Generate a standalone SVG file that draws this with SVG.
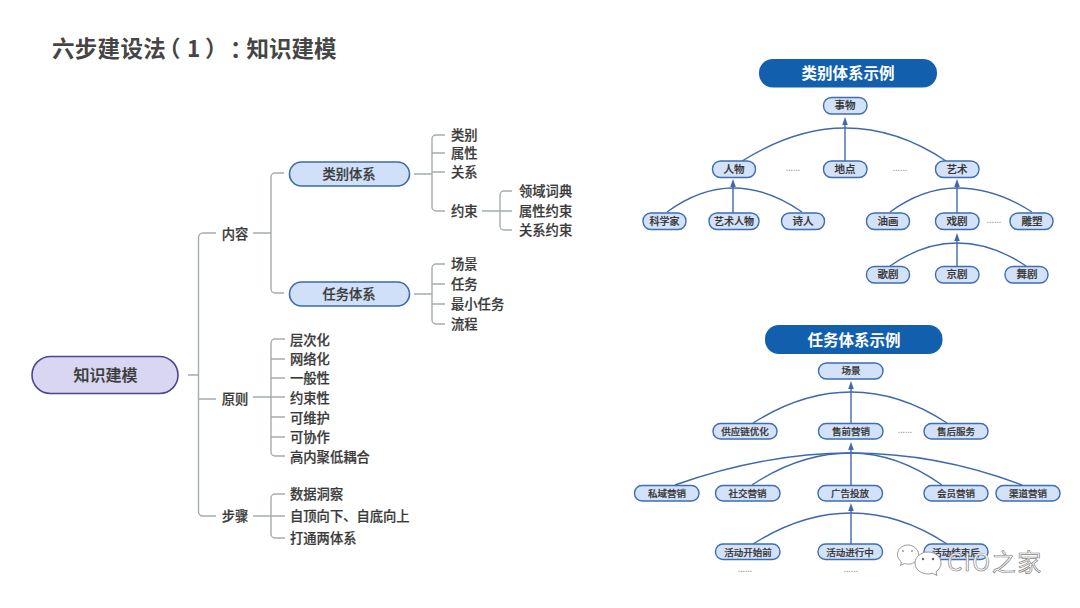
<svg xmlns="http://www.w3.org/2000/svg" width="1080" height="608" viewBox="0 0 1080 608">
<style>
text{font-family:"Noto Sans CJK SC","Liberation Sans",sans-serif;dominant-baseline:central;text-anchor:middle;fill:#3a3a3a;stroke:#3a3a3a;stroke-width:.22;font-weight:500;transform:translateY(-.05em)}
.title{font-size:22.500px;font-weight:700;text-anchor:start;fill:#454545;stroke:none;text-spacing-trim:space-all;transform:translateY(-.11em)}
.leaf{font-size:13.300px;text-anchor:start}
.mid{font-size:13.300px}
.rt{font-size:16px}
.pill{fill:#cfe0f8;stroke:#3a6ab0;stroke-width:1.6}
.root{fill:#d9d6f1;stroke:#4c4596;stroke-width:1.6}
.banner{fill:#1260ad}
.bt{font-size:15.500px;font-weight:700;fill:#fff;stroke:none}
.n{fill:#d3e2f8;stroke:#3d6db2;stroke-width:1.4}
.s{font-size:10px;fill:#333}
.s2{font-size:10.500px;fill:#333}
.t{font-size:9.500px;fill:#333}
.dot{font-size:8px;fill:#888;stroke:none}
.gl{fill:none;stroke:#a4adae;stroke-width:1.4}
.bl{fill:none;stroke:#3f69ad;stroke-width:1.4}
.ar{marker-end:url(#up)}
.wm{fill:#fff;stroke:#9a9a9a;stroke-width:1}
.wt{font-size:24px;font-weight:400;fill:#fff;stroke:#858585;stroke-width:.7;text-anchor:start;letter-spacing:1.500px}
</style>
<defs><marker id="up" markerUnits="userSpaceOnUse" markerWidth="8" markerHeight="8" refX="1" refY="4" orient="auto" viewBox="0 0 8 8"><path d="M8 4L0 1.200V6.800Z" fill="#3f69ad"/></marker></defs>
<rect width="1080" height="608" fill="#fff"/>
<text class="title" y="49" x="52 74.800 97.600 120.400 143.200 158 187 205 230 246.500 269 291.500 314">六步建设法（1）：知识建模</text>

<g id="connectors">
<g id="mindmap-lines" class="gl">
<path d="M188 375H198.500M216 233H203a4.500 4.500 0 0 0-4.500 4.500V511.500a4.500 4.500 0 0 0 4.500 4.500H216M198.500 399H216"/>
<path d="M253 233H271M284 173H275a4 4 0 0 0-4 4V289a4 4 0 0 0 4 4H284"/>
<path d="M414 174H432M445 135H436a4 4 0 0 0-4 4V207a4 4 0 0 0 4 4H445M432 153H445M432 172H445"/>
<path d="M482 211H512M512 191H504a4 4 0 0 0-4 4V226a4 4 0 0 0 4 4H512"/>
<path d="M414 294H432M445 264H436a4 4 0 0 0-4 4V320a4 4 0 0 0 4 4H445M432 284H445M432 304H445"/>
<path d="M253 397H285M285 339H275a4 4 0 0 0-4 4V452a4 4 0 0 0 4 4H285M271 359H285M271 378H285M271 417H285M271 437H285"/>
<path d="M253 516H285M285 494H275a4 4 0 0 0-4 4V534a4 4 0 0 0 4 4H285"/>
</g>
<g id="category-lines" class="bl">
<path class="ar" d="M845 161V124"/>
<path d="M742 161Q795 128 845 128Q897 128 946 161"/>
<path class="ar" d="M733 213V186"/>
<path d="M667 212Q700 188 733 188Q768 188 802 212"/>
<path class="ar" d="M957 213V186"/>
<path d="M890 212Q923 188 957 188Q995 188 1032 212"/>
<path class="ar" d="M957 266V240"/>
<path d="M890 266Q923 243 957 243Q992 243 1026 266"/>
</g>
<g id="task-lines" class="bl">
<path class="ar" d="M851 423V388"/>
<path d="M753 423Q802 392 851 392Q900 392 947 423"/>
<path class="ar" d="M851 485V449"/>
<path d="M675 485Q765 453 851 453Q938 453 1022 485"/>
<path d="M752 485Q800 453 851 453Q897 453 942 485"/>
<path class="ar" d="M851 544V510"/>
<path d="M753 544Q802 513 851 513Q900 513 947 544"/>
</g>
</g>

<g id="root"><rect class="root" x="32" y="356.500" width="146" height="37" rx="18.500"/><text class="rt" x="105.500" y="375">知识建模</text></g>
<g id="b-content"><text class="mid" x="235" y="234">内容</text></g>
<g id="b-principle"><text class="mid" x="235" y="399">原则</text></g>
<g id="b-steps"><text class="mid" x="235" y="516">步骤</text></g>
<g id="cat-system"><rect class="pill" x="289.500" y="162" width="120" height="24" rx="12"/><text class="mid" x="349" y="174">类别体系</text></g>
<g id="task-system"><rect class="pill" x="289.500" y="282" width="120" height="24" rx="12"/><text class="mid" x="349" y="294">任务体系</text></g>
<g id="l1"><text class="leaf" x="451" y="135">类别</text></g>
<g id="l2"><text class="leaf" x="451" y="153">属性</text></g>
<g id="l3"><text class="leaf" x="451" y="172">关系</text></g>
<g id="l4"><text class="leaf" x="451" y="211">约束</text></g>
<g id="l5"><text class="leaf" x="519" y="191">领域词典</text></g>
<g id="l6"><text class="leaf" x="519" y="211">属性约束</text></g>
<g id="l7"><text class="leaf" x="519" y="230">关系约束</text></g>
<g id="l8"><text class="leaf" x="451" y="264">场景</text></g>
<g id="l9"><text class="leaf" x="451" y="284">任务</text></g>
<g id="l10"><text class="leaf" x="451" y="304">最小任务</text></g>
<g id="l11"><text class="leaf" x="451" y="324">流程</text></g>
<g id="p1"><text class="leaf" x="290" y="340">层次化</text></g>
<g id="p2"><text class="leaf" x="290" y="359">网络化</text></g>
<g id="p3"><text class="leaf" x="290" y="378">一般性</text></g>
<g id="p4"><text class="leaf" x="290" y="398">约束性</text></g>
<g id="p5"><text class="leaf" x="290" y="418">可维护</text></g>
<g id="p6"><text class="leaf" x="290" y="437">可协作</text></g>
<g id="p7"><text class="leaf" x="290" y="457">高内聚低耦合</text></g>
<g id="s1"><text class="leaf" x="290" y="494">数据洞察</text></g>
<g id="s2"><text class="leaf" x="290" y="516">自顶向下、自底向上</text></g>
<g id="s3"><text class="leaf" x="290" y="538">打通两体系</text></g>

<g id="banner-cat"><rect class="banner" x="759" y="59" width="178" height="28.500" rx="14"/><text class="bt" x="848" y="73">类别体系示例</text></g>
<g id="c0"><rect class="n" x="823.500" y="97.500" width="43.500" height="16.500" rx="8"/><text class="s2" x="845" y="105.500">事物</text></g>
<g id="c1"><rect class="n" x="712.500" y="161" width="43" height="16.500" rx="8"/><text class="s2" x="734" y="169">人物</text></g>
<g id="c2"><rect class="n" x="823.500" y="161" width="43.500" height="16.500" rx="8"/><text class="s2" x="845" y="169">地点</text></g>
<g id="c3"><rect class="n" x="935.500" y="161" width="43.500" height="16.500" rx="8"/><text class="s2" x="957" y="169">艺术</text></g>
<g id="c4"><rect class="n" x="643" y="213" width="43" height="16.500" rx="8"/><text class="s" x="664.500" y="221">科学家</text></g>
<g id="c5"><rect class="n" x="709" y="213" width="50" height="16.500" rx="8"/><text class="s" x="734" y="221">艺术人物</text></g>
<g id="c6"><rect class="n" x="781.500" y="213" width="43" height="16.500" rx="8"/><text class="s2" x="803" y="221">诗人</text></g>
<g id="c7"><rect class="n" x="866.500" y="213" width="43" height="16.500" rx="8"/><text class="s2" x="888" y="221">油画</text></g>
<g id="c8"><rect class="n" x="935.500" y="213" width="43.500" height="16.500" rx="8"/><text class="s2" x="957" y="221">戏剧</text></g>
<g id="c9"><rect class="n" x="1010" y="213" width="43" height="16.500" rx="8"/><text class="s2" x="1032" y="221">雕塑</text></g>
<g id="c10"><rect class="n" x="866.500" y="266.500" width="43" height="16.500" rx="8"/><text class="s2" x="888" y="274.500">歌剧</text></g>
<g id="c11"><rect class="n" x="935.500" y="266.500" width="43.500" height="16.500" rx="8"/><text class="s2" x="957" y="274.500">京剧</text></g>
<g id="c12"><rect class="n" x="1005" y="266.500" width="43" height="16.500" rx="8"/><text class="s2" x="1027" y="274.500">舞剧</text></g>
<text class="dot" x="793" y="168">......</text>
<text class="dot" x="900" y="168">......</text>
<text class="dot" x="994" y="220">......</text>

<g id="banner-task"><rect class="banner" x="765" y="325" width="177.500" height="29" rx="14"/><text class="bt" x="854" y="339.500">任务体系示例</text></g>
<g id="t0"><rect class="n" x="818.500" y="363" width="64.500" height="16" rx="8"/><text class="t" x="851" y="370.500">场景</text></g>
<g id="t1"><rect class="n" x="713" y="423.500" width="64" height="15.500" rx="7.500"/><text class="t" x="745" y="431">供应链优化</text></g>
<g id="t2"><rect class="n" x="818.500" y="423.500" width="64.500" height="15.500" rx="7.500"/><text class="t" x="851" y="431">售前营销</text></g>
<g id="t3"><rect class="n" x="924" y="423.500" width="64" height="15.500" rx="7.500"/><text class="t" x="956" y="431">售后服务</text></g>
<g id="t4"><rect class="n" x="634.500" y="485.500" width="64.500" height="15.500" rx="7.500"/><text class="t" x="667" y="493">私域营销</text></g>
<g id="t5"><rect class="n" x="715.500" y="485.500" width="64.500" height="15.500" rx="7.500"/><text class="t" x="747.500" y="493">社交营销</text></g>
<g id="t6"><rect class="n" x="818" y="485.500" width="64.500" height="15.500" rx="7.500"/><text class="t" x="850" y="493">广告投放</text></g>
<g id="t7"><rect class="n" x="924" y="485.500" width="64" height="15.500" rx="7.500"/><text class="t" x="956" y="493">会员营销</text></g>
<g id="t8"><rect class="n" x="996" y="485.500" width="64" height="15.500" rx="7.500"/><text class="t" x="1028" y="493">渠道营销</text></g>
<g id="t9"><rect class="n" x="715.500" y="544" width="64.500" height="15.500" rx="7.500"/><text class="t" x="748" y="552">活动开始前</text></g>
<g id="t10"><rect class="n" x="818" y="544" width="64.500" height="15.500" rx="7.500"/><text class="t" x="850" y="552">活动进行中</text></g>
<g id="t11"><rect class="n" x="924" y="544" width="64" height="15.500" rx="7.500"/><text class="t" x="956" y="552">活动结束后</text></g>
<text class="dot" x="905" y="430">......</text>
<text class="dot" x="745" y="569">......</text>
<text class="dot" x="851" y="569">......</text>

<g id="watermark">
<path class="wm" d="M908 545c-6 0-10.500 4-10.500 9.500 0 3 1.500 5.500 4 7.500l-1 3.500 4-2c1.500.5 2.500.7 4 .7 5.500 0 10-4.500 10-9.700s-5-9.500-10.500-9.500Z"/>
<path class="wm" d="M928 552c-7 0-13 4.800-13 11 0 6.200 6 11 13 11 1.500 0 3-.2 4.500-.7l4.500 2.200-1-3.800c3-2 5-5.300 5-8.700 0-6.200-6-11-13-11Z"/>
<circle cx="903" cy="551" r="1" fill="#9a9a9a"/><circle cx="912" cy="551" r="1" fill="#9a9a9a"/>
<circle cx="923" cy="559" r="1.200" fill="#666"/><circle cx="933" cy="559" r="1.200" fill="#666"/>
<text class="wt" x="947" y="562">CIO之家</text>
</g>
</svg>
